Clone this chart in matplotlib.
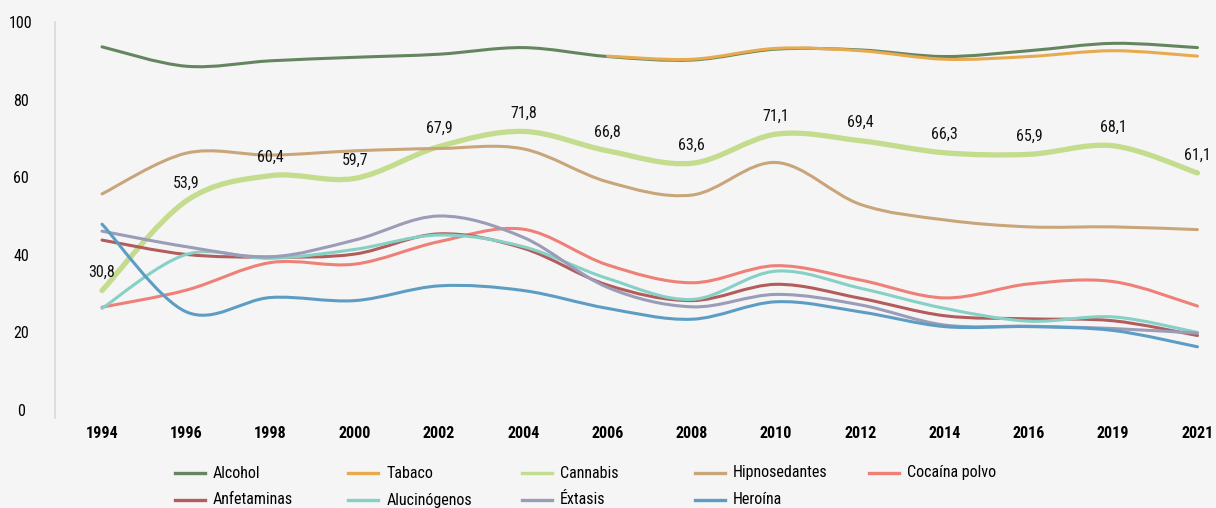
import matplotlib
matplotlib.use("Agg")
import matplotlib.pyplot as plt
from matplotlib.path import Path
from matplotlib.patches import PathPatch
from matplotlib.lines import Line2D

years = ["1994", "1996", "1998", "2000", "2002", "2004", "2006", "2008",
         "2010", "2012", "2014", "2016", "2019", "2021"]

alcohol = [93.6, 88.6, 90.0, 90.9, 91.7, 93.4, 91.1, 90.2, 93.0, 92.8, 91.1, 92.6, 94.5, 93.4]
tabaco = [None, None, None, None, None, None, 91.2, 90.4, 93.2, 92.6, 90.4, 91.1, 92.6, 91.2]
cannabis = [30.8, 53.9, 60.4, 59.7, 67.9, 71.8, 66.8, 63.6, 71.1, 69.4, 66.3, 65.9, 68.1, 61.1]
hipnosedantes = [55.7, 66.2, 65.7, 66.8, 67.4, 67.3, 58.8, 55.4, 63.8, 53.0, 49.0, 47.2, 47.2, 46.5]
cocaina = [26.5, 30.9, 38.0, 37.6, 43.4, 46.6, 37.4, 32.8, 37.2, 33.5, 28.9, 32.5, 33.1, 26.8]
anfetaminas = [43.8, 40.1, 39.4, 40.2, 45.4, 41.7, 32.2, 28.2, 32.4, 28.8, 24.3, 23.5, 23.0, 19.2]
alucinogenos = [26.2, 40.1, 39.1, 41.4, 45.1, 42.1, 33.9, 28.5, 35.8, 31.4, 26.2, 22.9, 24.0, 20.0]
extasis = [46.1, 42.1, 39.5, 43.8, 50.0, 44.5, 31.6, 26.6, 29.8, 27.1, 21.9, 21.6, 21.0, 19.8]
heroina = [47.9, 25.3, 29.0, 28.2, 32.0, 30.8, 26.2, 23.4, 27.9, 25.3, 21.5, 21.5, 20.5, 16.3]

names = ["Alcohol", "Tabaco", "Cannabis", "Hipnosedantes", "Cocaína polvo",
         "Anfetaminas", "Alucinógenos", "Éxtasis", "Heroína"]
series = [alcohol, tabaco, cannabis, hipnosedantes, cocaina,
          anfetaminas, alucinogenos, extasis, heroina]
colors = ["#658560", "#e8aa4e", "#c4dc8e", "#c9a57a", "#ef8078",
          "#b35c5c", "#86d0c6", "#9a9cb8", "#5e9dc3"]
widths = [2.2, 2.2, 3.8, 2.2, 2.2, 2.2, 2.2, 2.2, 2.2]

plt.rcParams['font.family'] = ['Roboto Condensed', 'Roboto', 'DejaVu Sans']
bg = "#f5f5f5"


def smooth_path(xs, ys):
    # excel style smoothed line: catmull-rom segments as cubic beziers
    verts = [(xs[0], ys[0])]
    codes = [Path.MOVETO]
    n = len(xs)
    for i in range(n - 1):
        a = i - 1 if i > 0 else i
        d = i + 2 if i + 2 < n else i + 1
        c1 = (xs[i] + (xs[i + 1] - xs[a]) / 6, ys[i] + (ys[i + 1] - ys[a]) / 6)
        c2 = (xs[i + 1] - (xs[d] - xs[i]) / 6, ys[i + 1] - (ys[d] - ys[i]) / 6)
        verts += [c1, c2, (xs[i + 1], ys[i + 1])]
        codes += [Path.CURVE4] * 3
    return Path(verts, codes)


fig = plt.figure(figsize=(12.16, 5.08), dpi=100, facecolor=bg)
ax = fig.add_axes([55 / 1216, (508 - 417.8) / 508, (1216 - 55) / 1216, (417.8 - 22) / 508])
ax.set_facecolor(bg)

for k, (vals, col, lw) in enumerate(zip(series, colors, widths)):
    xs = [i for i, v in enumerate(vals) if v is not None]
    ys = [v for v in vals if v is not None]
    patch = PathPatch(smooth_path(xs, ys), fill=False, edgecolor=col, linewidth=lw,
                      capstyle='round', joinstyle='round', zorder=2 + k)
    ax.add_patch(patch)

for i, v in enumerate(cannabis):
    ax.annotate(f"{v:.1f}".replace(".", ","), (i, v), xytext=(0, 13),
                textcoords="offset points", ha="center", va="center",
                fontsize=11.5, color="#111111", zorder=20)

ax.set_xlim(-0.558, 13.22)
ax.set_ylim(-2, 100)
ax.set_xticks(range(len(years)))
ax.set_xticklabels(years, fontsize=11.5, fontweight="bold")
ax.set_yticks([0, 20, 40, 60, 80, 100])
ax.tick_params(axis="x", length=0, pad=6)
ax.tick_params(axis="y", length=0, pad=24.5, labelsize=11.5)
for lab in ax.get_yticklabels():
    lab.set_horizontalalignment("center")
for s in ["top", "right", "bottom"]:
    ax.spines[s].set_visible(False)
ax.spines["left"].set_color("#d9d9d9")
ax.spines["left"].set_linewidth(1.2)

# legend, 5 columns on two rows
for k, (name, col) in enumerate(zip(names, colors)):
    row, c = divmod(k, 5)
    x0 = 175 + 173.4 * c
    yc = 1 - (473 + 27 * row) / 508
    fig.add_artist(Line2D([x0 / 1216, (x0 + 30) / 1216], [yc, yc], color=col,
                          linewidth=2.4, transform=fig.transFigure))
    fig.text((x0 + 38) / 1216, yc, name, ha="left", va="center", fontsize=11.5)

fig.savefig("out.png", dpi=100, facecolor=bg)
